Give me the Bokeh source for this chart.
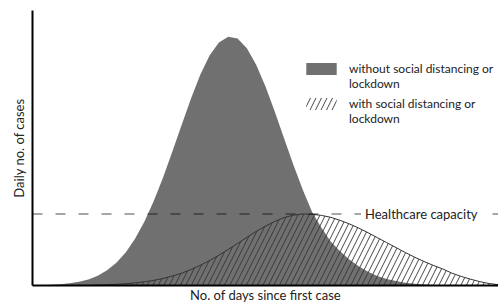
from bokeh.plotting import figure
from bokeh.models import Range1d, Span, Label, Legend, LegendItem
from bokeh.embed import file_html
from bokeh.resources import INLINE

# ---- data ----
days = list(range(0, 102, 2))
without_sd = [0.07, 0.13, 0.25, 0.45, 0.79, 1.35, 2.22, 3.55, 5.51, 8.3,
              12.0, 17.0, 23.2, 30.6, 39.2, 48.6, 58.4, 67.9, 76.6, 83.6,
              88.4, 90.5, 89.8, 86.3, 80.3, 72.4, 63.2, 53.5, 43.8, 34.8,
              26.7, 21.0, 16.0, 12.5, 9.5, 7.0, 5.0, 3.5, 2.4, 1.6,
              1.0, 0.6, 0.35, 0.2, 0.1, 0.05, 0.02, 0.01, 0.0, 0.0, 0.0]
with_sd = [0.0, 0.0, 0.0, 0.0, 0.0, 0.0, 0.0, 0.19, 0.29, 0.44,
           0.64, 0.94, 1.33, 1.86, 2.55, 3.41, 4.49, 5.79, 7.32, 9.07,
           11.0, 13.1, 15.3, 17.5, 19.7, 21.6, 23.3, 24.7, 25.6, 26.0,
           25.9, 25.5, 24.8, 23.7, 22.4, 20.9, 19.2, 17.4, 15.6, 13.8,
           12.0, 10.3, 8.74, 7.32, 6.04, 4.5, 3.3, 2.3, 1.4, 0.7, 0.3]
capacity = 26
series_lines = [["without social distancing or", "lockdown"],
                ["with social distancing or", "lockdown"]]
capacity_label = "Healthcare capacity"
x_title = "No. of days since first case"
y_title = "Daily no. of cases"

FONT = "Lato"

p = figure(width=498, height=305, output_backend="svg", toolbar_location=None,
           x_range=Range1d(0, 100), y_range=Range1d(0, 100),
           min_border_left=32, min_border_right=0, min_border_top=10,
           min_border_bottom=18)
p.outline_line_color = None
p.grid.visible = False
p.background_fill_color = "white"

gray = p.varea(x=days, y1=0, y2=without_sd, fill_color="#707070", fill_alpha=1)
hatched = p.varea(x=days, y1=0, y2=with_sd, fill_alpha=0,
                  hatch_pattern="/", hatch_color="#333333", hatch_weight=1,
                  hatch_scale=11, hatch_alpha=0.9)
p.line(x=days, y=with_sd, line_color="#333333", line_width=1)
# invisible renderer used only for the legend's continuation lines
blank = p.varea(x=[], y1=[], y2=[], fill_alpha=0)

span = Span(location=capacity, dimension="width", line_color="black",
            line_alpha=0.35, line_width=2, line_dash="10 13")
p.add_layout(span)
p.add_layout(Label(x=70.5, y=capacity, text=capacity_label, text_baseline="middle",
                   text_font=FONT, text_font_size="13px", text_color="#222222",
                   background_fill_color="white", padding=4))

for ax in (p.xaxis[0], p.yaxis[0]):
    ax.ticker = []
    ax.major_tick_line_color = None
    ax.minor_tick_line_color = None
    ax.major_label_text_font_size = "0px"
    ax.major_label_standoff = 0
    ax.axis_line_color = "black"
    ax.axis_line_width = 2
    ax.axis_label_text_font = FONT
    ax.axis_label_text_font_size = "13px"
    ax.axis_label_text_font_style = "normal"
    ax.axis_label_text_color = "#222222"
p.xaxis.axis_label = x_title
p.yaxis.axis_label = y_title
p.xaxis.axis_label_standoff = 1
p.yaxis.axis_label_standoff = 6


def make_legend(renderer, lines, loc):
    items = [LegendItem(label=lines[0], renderers=[renderer]),
             LegendItem(label=lines[1], renderers=[blank])]
    return Legend(items=items, location=loc, padding=0, margin=0, spacing=0,
                  glyph_width=38, glyph_height=15, label_standoff=9,
                  label_height=15,
                  label_text_font=FONT, label_text_font_size="12px",
                  label_text_color="#222222", border_line_color=None,
                  background_fill_alpha=0)


p.add_layout(make_legend(gray, series_lines[0], (270, 194)))
p.add_layout(make_legend(hatched, series_lines[1], (270, 159)))

open("out.html", "w").write(file_html(p, INLINE))
